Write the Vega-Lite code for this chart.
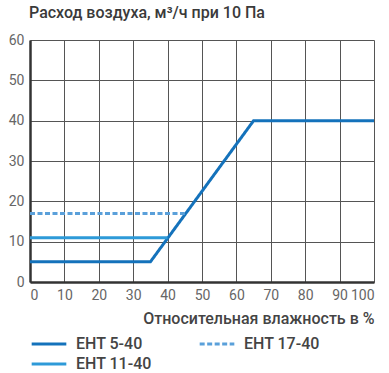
{
  "$schema": "https://vega.github.io/schema/vega-lite/v6.json",
  "width": 344,
  "height": 242,
  "autosize": {"type": "none"},
  "padding": {"left": 30, "top": 40, "right": 15, "bottom": 91},
  "background": "white",
  "title": {
    "text": ["Расход воздуха, м³/ч при 10 Па"],
    "anchor": "start",
    "frame": "group",
    "offset": 12,
    "dx": -1,
    "font": "Roboto",
    "fontSize": 16,
    "fontWeight": 500,
    "color": "#3a3a3a"
  },
  "config": {
    "view": {"stroke": null},
    "font": "Roboto",
    "axis": {
      "grid": true,
      "gridColor": "#555555",
      "gridWidth": 1,
      "ticks": false,
      "labelFont": "Roboto",
      "labelFontSize": 14,
      "labelColor": "#666666",
      "domainColor": "#333333",
      "domainWidth": 2.5
    }
  },
  "data": {
    "values": [
      {"series": "EHT 5-40", "x": 0, "y": 5},
      {"series": "EHT 5-40", "x": 35, "y": 5},
      {"series": "EHT 5-40", "x": 65, "y": 40},
      {"series": "EHT 5-40", "x": 100, "y": 40},
      {"series": "EHT 11-40", "x": 0, "y": 11},
      {"series": "EHT 11-40", "x": 40, "y": 11},
      {"series": "EHT 17-40", "x": 0, "y": 17},
      {"series": "EHT 17-40", "x": 45, "y": 17}
    ]
  },
  "mark": {"type": "line", "strokeCap": "butt"},
  "encoding": {
    "x": {
      "field": "x",
      "type": "quantitative",
      "scale": {"domain": [0, 100], "nice": false},
      "axis": {
        "values": [0, 10, 20, 30, 40, 50, 60, 70, 80, 90, 100],
        "labelPadding": 6,
        "title": "Относительная влажность в %",
        "titleAnchor": "end",
        "titleFont": "Roboto",
        "titleFontSize": 16,
        "titleFontWeight": 500,
        "titleColor": "#444444",
        "titlePadding": 8
      }
    },
    "y": {
      "field": "y",
      "type": "quantitative",
      "scale": {"domain": [0, 60], "nice": false},
      "axis": {
        "values": [0, 10, 20, 30, 40, 50, 60],
        "labelPadding": 6,
        "title": null
      }
    },
    "color": {
      "field": "series",
      "type": "nominal",
      "scale": {
        "domain": ["EHT 5-40", "EHT 17-40", "EHT 11-40"],
        "range": ["#1472bb", "#5aa0da", "#2e9ad8"]
      },
      "legend": {
        "title": null,
        "orient": "none",
        "legendX": 0,
        "legendY": 295,
        "padding": 0,
        "direction": "horizontal",
        "columns": 2,
        "columnPadding": 46,
        "rowPadding": 2,
        "clipHeight": 18,
        "symbolType": "stroke",
        "symbolSize": 1200,
        "labelFont": "Roboto",
        "labelFontSize": 16,
        "labelFontWeight": 500,
        "labelColor": "#444444",
        "labelOffset": 8
      }
    },
    "strokeDash": {
      "field": "series",
      "type": "nominal",
      "scale": {
        "domain": ["EHT 5-40", "EHT 17-40", "EHT 11-40"],
        "range": [[1, 0], [5, 2.5], [1, 0]]
      }
    },
    "strokeWidth": {
      "field": "series",
      "type": "nominal",
      "scale": {
        "domain": ["EHT 5-40", "EHT 17-40", "EHT 11-40"],
        "range": [3, 3, 3.5]
      }
    }
  }
}
